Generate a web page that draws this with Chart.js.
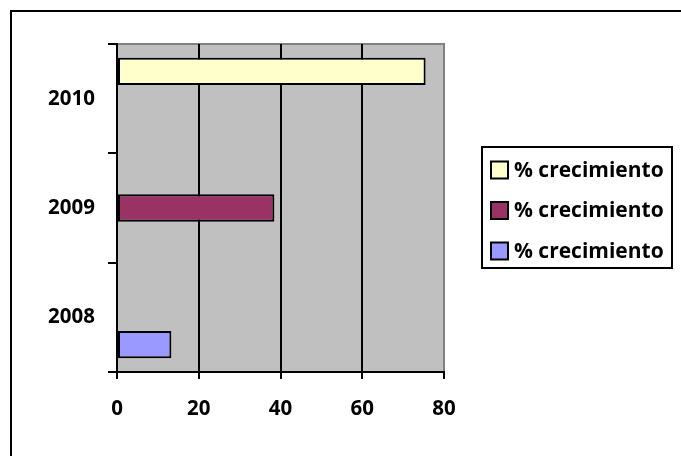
<!DOCTYPE html>
<html>
<head>
<meta charset="utf-8">
<style>
html,body{margin:0;padding:0;background:#fff;}
#wrap{position:relative;width:681px;height:456px;}
canvas{display:block;}
</style>
<script src="https://cdn.jsdelivr.net/npm/chart.js@4/dist/chart.umd.min.js"></script>
</head>
<body>
<div id="wrap"><canvas id="c" width="681" height="456"></canvas></div>
<script>
// Categories, top to bottom as shown
const categories = ['2010', '2009', '2008'];
const seriesNames = ['% crecimiento', '% crecimiento', '% crecimiento'];
// Each series carries one value (Excel-style per-year series)
const series2010 = [75.5, null, null];
const series2009 = [null, 38.5, null];
const series2008 = [null, null, 13.3];
const seriesColors = ['#FFFFCC', '#993366', '#9999FF'];
const xTicks = [0, 20, 40, 60, 80];

const FONT = '"Open Sans"';
Chart.defaults.font.family = FONT;
Chart.defaults.font.weight = 'bold';
Chart.defaults.font.size = 20.5;
Chart.defaults.color = '#000';

const frame = {
  id: 'frame',
  beforeDraw(chart) {
    const ctx = chart.ctx, a = chart.chartArea;
    ctx.save();
    ctx.fillStyle = '#fff';
    ctx.fillRect(0, 0, chart.width, chart.height);
    // outer frame (top & left visible)
    ctx.strokeStyle = '#000';
    ctx.lineWidth = 2;
    ctx.beginPath();
    ctx.moveTo(11, chart.height + 2);
    ctx.lineTo(11, 11);
    ctx.lineTo(chart.width + 2, 11);
    ctx.stroke();
    // plot background
    ctx.fillStyle = '#C0C0C0';
    ctx.fillRect(a.left, a.top, a.right - a.left, a.bottom - a.top);
    ctx.strokeStyle = '#808080';
    ctx.lineWidth = 2;
    ctx.beginPath();
    ctx.moveTo(a.left, a.top);
    ctx.lineTo(a.right, a.top);
    ctx.lineTo(a.right, a.bottom);
    ctx.stroke();
    ctx.restore();
  },
  afterDraw(chart) {
    const ctx = chart.ctx;
    ctx.save();
    ctx.strokeStyle = '#000';
    ctx.lineWidth = 2;
    ctx.strokeRect(482, 147, 190, 121);
    const rows = [169.5, 210, 250.5];
    ctx.font = 'bold 21px ' + FONT;
    ctx.textBaseline = 'middle';
    ctx.textAlign = 'left';
    chart.data.datasets.forEach((ds, i) => {
      const y = rows[i];
      ctx.fillStyle = ds.backgroundColor;
      ctx.fillRect(491, y - 8, 17, 17);
      ctx.strokeRect(491, y - 8, 17, 17);
      ctx.fillStyle = '#000';
      ctx.fillText(ds.label, 514, y + 1.5);
    });
    ctx.restore();
  }
};

new Chart(document.getElementById('c'), {
  type: 'bar',
  data: {
    labels: categories,
    datasets: [
      { label: seriesNames[0], data: series2010, backgroundColor: seriesColors[0] },
      { label: seriesNames[1], data: series2009, backgroundColor: seriesColors[1] },
      { label: seriesNames[2], data: series2008, backgroundColor: seriesColors[2] }
    ]
  },
  options: {
    indexAxis: 'y',
    responsive: false,
    animation: false,
    devicePixelRatio: 1,
    layout: { padding: { left: 0, top: 44, right: 237, bottom: 0 } },
    datasets: {
      bar: {
        borderColor: '#000',
        borderWidth: 2,
        borderSkipped: false,
        categoryPercentage: 0.75,
        barPercentage: 1
      }
    },
    plugins: { legend: { display: false }, tooltip: { enabled: false } },
    scales: {
      x: {
        type: 'linear',
        min: 0, max: 80,
        afterBuildTicks(s) { s.ticks = xTicks.map(v => ({ value: v })); },
        afterFit(s) { s.height = 84; },
        ticks: { padding: 18, color: '#000' },
        grid: {
          color: (c) => (c.tick && c.tick.value === 80) ? '#808080' : '#000',
          tickColor: '#000',
          lineWidth: 2,
          tickLength: 7
        },
        border: { color: '#000', width: 2 }
      },
      y: {
        type: 'category',
        afterFit(s) { s.width = 117; },
        ticks: { padding: 13, color: '#000' },
        grid: {
          offset: true,
          drawOnChartArea: false,
          color: '#000',
          lineWidth: 2,
          tickLength: 9
        },
        border: { color: '#000', width: 2 }
      }
    }
  },
  plugins: [frame]
});
</script>
</body>
</html>
